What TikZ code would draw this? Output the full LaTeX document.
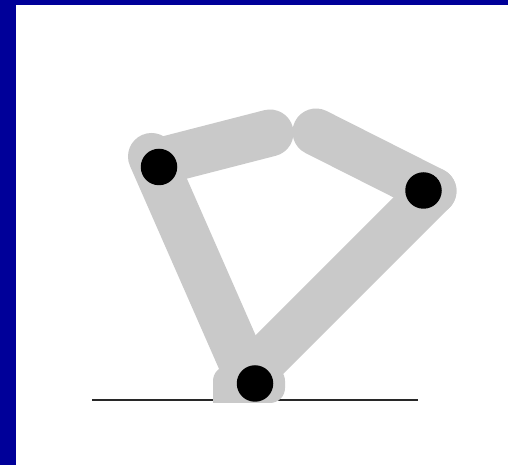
\documentclass[tikz,border=0pt]{standalone}
\usepackage{xcolor}
\definecolor{slideblue}{RGB}{0,0,153}
\definecolor{linkgray}{RGB}{201,201,201}
\definecolor{groundline}{RGB}{40,40,40}
\begin{document}
\begin{tikzpicture}[
    linkbar/.style={linkgray,line width=0.94cm,line cap=round},
    joint/.style={draw=none,circle,fill=black,inner sep=0pt,minimum size=0.73cm}]
  \useasboundingbox (0,0) rectangle (10.16,9.3);
  \fill[white] (0,0) rectangle (10.16,9.3);
  \fill[slideblue] (0,0) rectangle (0.32,9.3);
  \fill[slideblue] (0,9.2) rectangle (10.16,9.3);
  \coordinate (g1) at (1.84,1.3);
  \coordinate (g2) at (8.36,1.3);
  \draw[groundline,line width=0.8pt] (g1)--(g2);
  \coordinate (a1) at (3.03,6.17);
  \coordinate (a2) at (4.93,1.84);
  \coordinate (b1) at (3.30,6.10);
  \coordinate (b2) at (5.40,6.64);
  \coordinate (c1) at (6.32,6.66);
  \coordinate (c2) at (8.66,5.48);
  \coordinate (d1) at (8.66,5.48);
  \coordinate (d2) at (5.10,1.92);
  \foreach \a in {a,d,b,c}{\draw[linkbar] (\a1)--(\a2);}
  \fill[linkgray,rounded corners=0.3cm] (4.26,1.24) -- (4.26,1.98) -- (5.70,1.98) -- (5.70,1.24) [sharp corners] -- cycle;
  \node[joint] (j1) at (3.18,5.96) {};
  \node[joint] (j2) at (8.47,5.49) {};
  \node[joint] (j3) at (5.10,1.63) {};
\end{tikzpicture}
\end{document}
